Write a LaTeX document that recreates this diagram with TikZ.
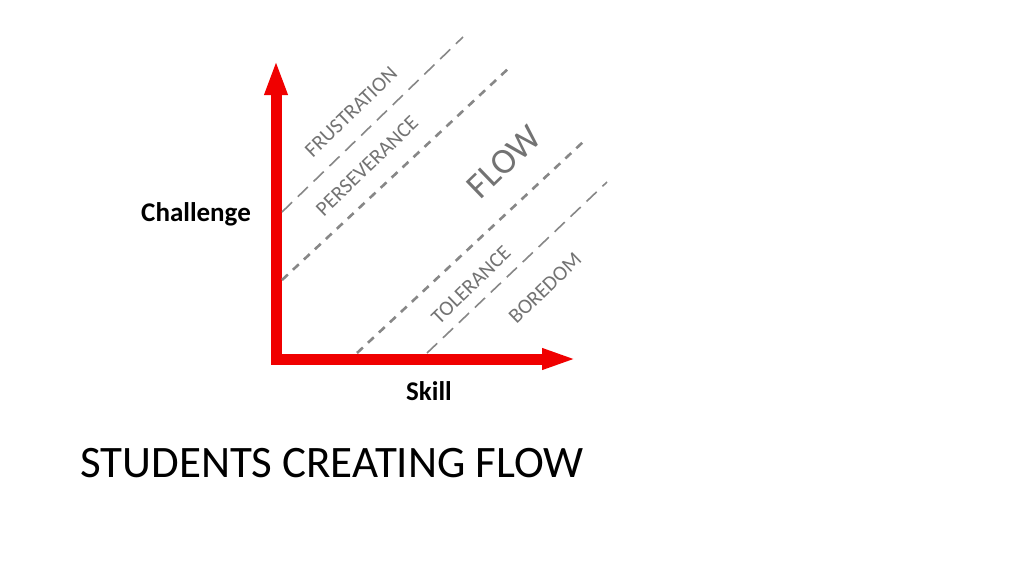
\documentclass[tikz,border=0pt]{standalone}
\usepackage{fontspec}
\setmainfont{Carlito}
\usetikzlibrary{arrows.meta}
\definecolor{axisred}{RGB}{240,0,0}
\definecolor{zonegray}{RGB}{135,135,135}
\definecolor{labelgray}{RGB}{115,115,115}
\tikzset{
	axis/.style={line width=11pt, color=axisred, line join=miter,
		{Triangle[length=35pt,width=21pt]}-{Triangle[length=35pt,width=19pt]}},
	longdash/.style={line width=1.6pt, color=zonegray, dash pattern=on 14pt off 8pt},
	shortdash/.style={line width=2.6pt, color=zonegray, dash pattern=on 8pt off 7pt},
	zonelabel/.style={color=labelgray, font=\fontsize{21}{21}\selectfont, rotate=44, inner sep=0pt},
	axislabel/.style={font=\fontsize{27}{27}\selectfont\bfseries, inner sep=0pt}
}

\begin{document}
\begin{tikzpicture}[x=1pt, y=-1pt]
		%%%%% START %%%%%
		\useasboundingbox[fill=white] (0, 0) rectangle (1024, 576);
		
		% axes
		\coordinate (ytop) at (276, 60);
		\coordinate (origin) at (276, 359);
		\coordinate (xend) at (577, 359);
		\draw[axis] (ytop) -- (origin) -- (xend);
		
		\node[axislabel, anchor=east] (challenge) at (251, 214) {Challenge};
		\node[axislabel] (skill) at (429, 391) {Skill};
		
		% zone borders
		\coordinate (frA) at (282, 212);
		\coordinate (frB) at (463, 37);
		\coordinate (peA) at (282, 280);
		\coordinate (peB) at (510, 67);
		\coordinate (toA) at (357, 353);
		\coordinate (toB) at (583, 142);
		\coordinate (boA) at (427, 353);
		\coordinate (boB) at (607, 182);
		\draw[longdash] (frA) -- (frB);
		\draw[shortdash] (peA) -- (peB);
		\draw[shortdash] (toA) -- (toB);
		\draw[longdash] (boA) -- (boB);
		
		% zone names
		\node[zonelabel] (frustration) at (351, 112) {FRUSTRATION};
		\node[zonelabel] (perseverance) at (367, 166) {PERSEVERANCE};
		\node[zonelabel, font=\fontsize{36}{36}\selectfont] (flow) at (504, 162) {FLOW};
		\node[zonelabel] (tolerance) at (471, 285) {TOLERANCE};
		\node[zonelabel] (boredom) at (545, 288) {BOREDOM};
		
		% title
		\node[anchor=base west, inner sep=0pt, font=\fontsize{45}{45}\selectfont] (title) at (80, 477) {STUDENTS CREATING FLOW};
		%%%%% END %%%%%
	\end{tikzpicture}
\end{document}
